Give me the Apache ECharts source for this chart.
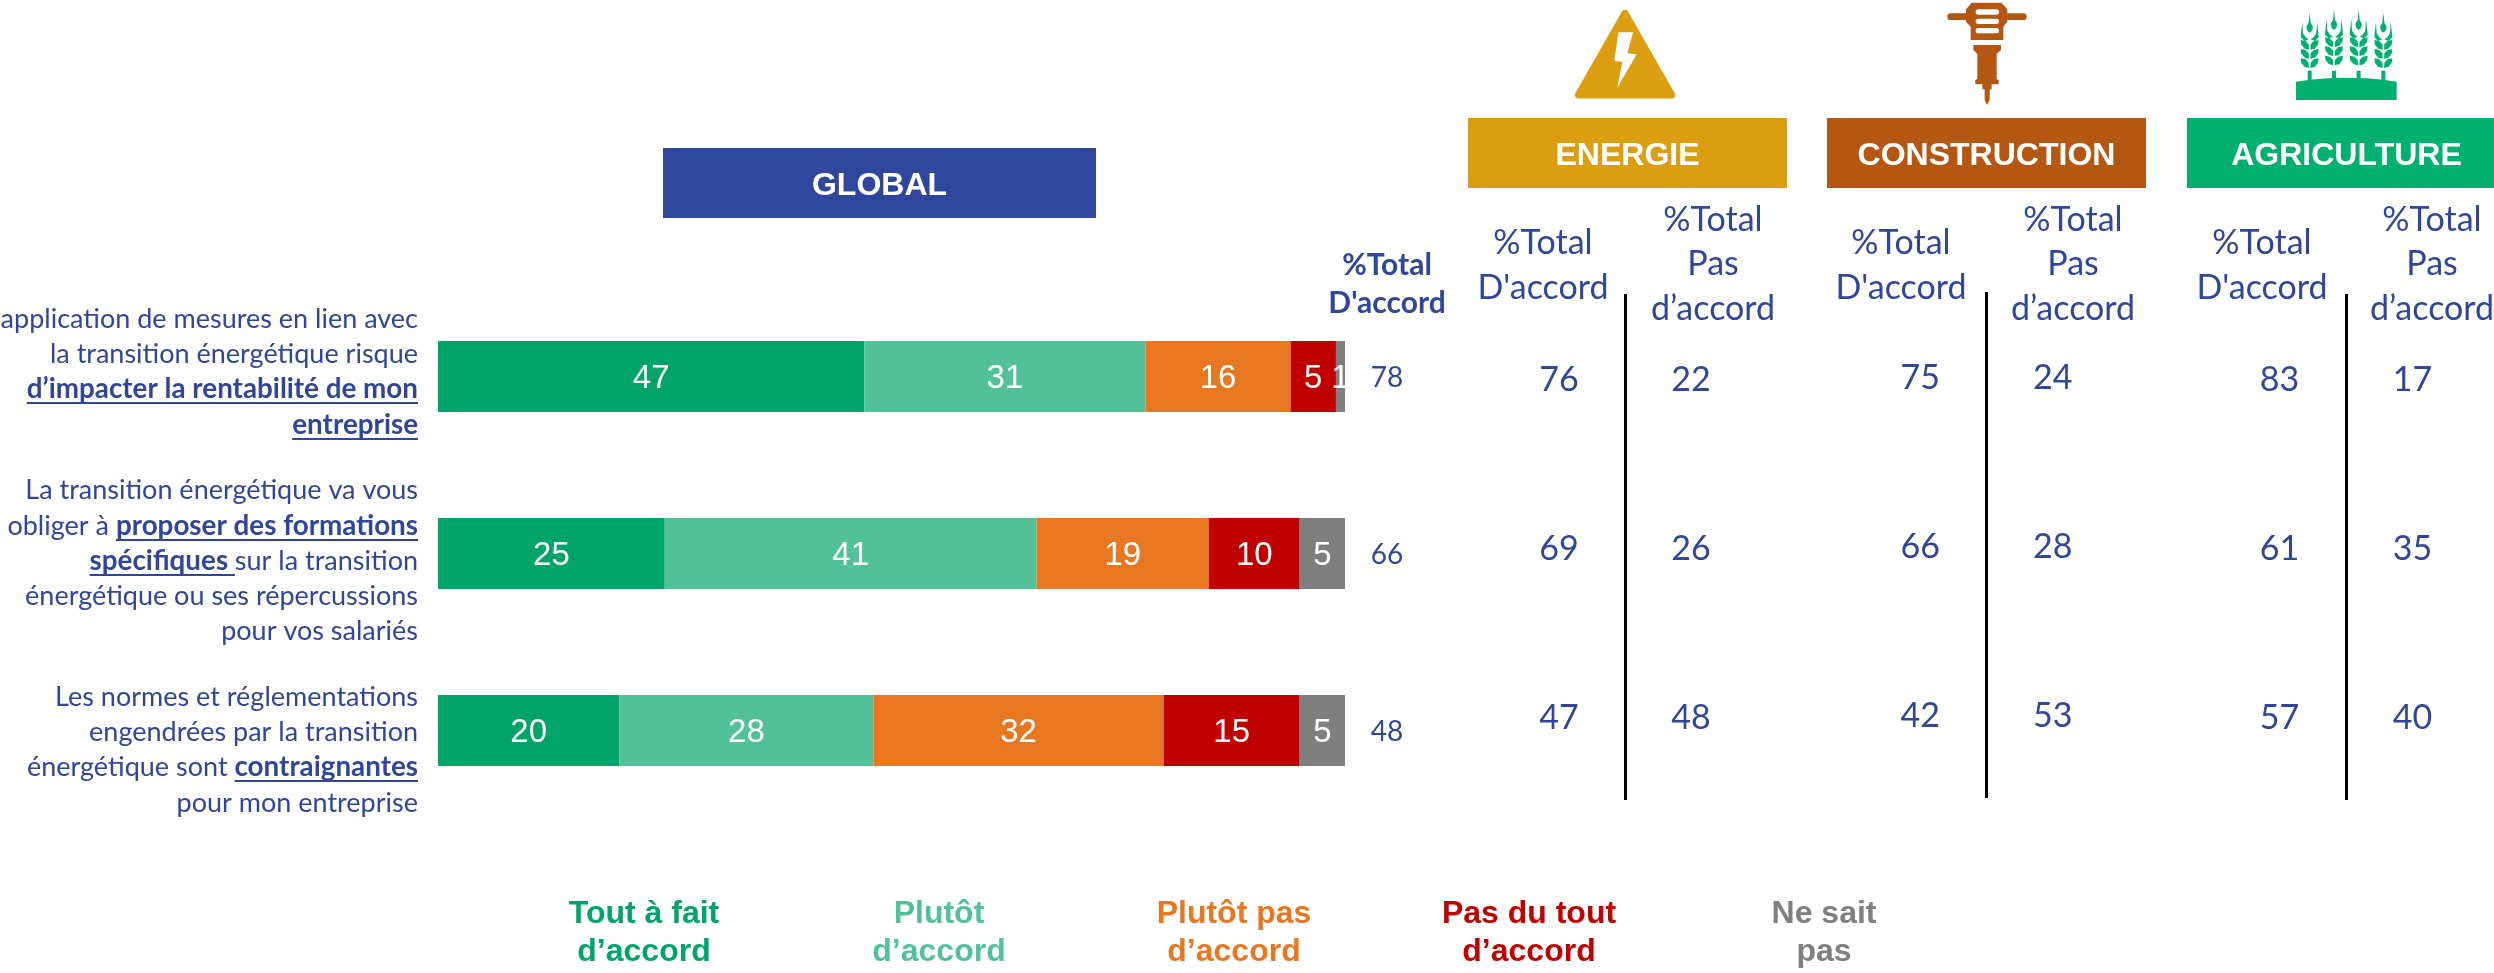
<!DOCTYPE html>
<html><head><meta charset="utf-8">
<style>html,body{margin:0;padding:0;background:#fff;overflow:hidden}#c{width:2494px;height:973px}</style>
<script src="https://cdn.jsdelivr.net/npm/echarts@6/dist/echarts.min.js"></script>
</head><body><div id="c"></div>
<script>
const categories = ["Rentabilité", "Formations", "Normes"];
const toutAFait = [47, 25, 20];
const plutot = [31, 41, 28];
const plutotPas = [16, 19, 32];
const pasDuTout = [5, 10, 15];
const neSaitPas = [1, 5, 5];
const totalAccord = [78, 66, 48];
const energieAccord = [76, 69, 47];
const energiePas = [22, 26, 48];
const constructionAccord = [75, 66, 42];
const constructionPas = [24, 28, 53];
const agricultureAccord = [83, 61, 57];
const agriculturePas = [17, 35, 40];
const legendNames = ["Tout à fait\nd’accord", "Plutôt\nd’accord", "Plutôt pas\nd’accord", "Pas du tout\nd’accord", "Ne sait\npas"];
const colors = ["#00A468", "#52C197", "#E87722", "#C00000", "#7F7F7F"];
const questionLines = [
  [[["L’application de mesures en lien avec", 0]], [["la transition énergétique risque", 0]], [["d’impacter la rentabilité de mon", 1]], [["entreprise", 1]]],
  [[["La transition énergétique va vous", 0]], [["obliger à ", 0], ["proposer des formations", 1]], [["spécifiques ", 1], ["sur la transition", 0]], [["énergétique ou ses répercussions", 0]], [["pour vos salariés", 0]]],
  [[["Les normes et réglementations", 0]], [["engendrées par la transition", 0]], [["énergétique sont ", 0], ["contraignantes", 1]], [["pour mon entreprise", 0]]]
];
const questionY = [[319, 354, 389, 425], [490, 526, 561, 596, 631], [697, 732, 767, 803]];
const headers = [["GLOBAL", 663, 433, "#2E469C"], ["ENERGIE", 1468, 319, "#DA9E10"], ["CONSTRUCTION", 1827, 319, "#B45712"], ["AGRICULTURE", 2187, 319, "#00B06F"]];

const BLUE = "#2F4699", LATO = "Lato";
const graphic = [];
const ctx = document.createElement("canvas").getContext("2d");
function font(b) { return (b ? "bold 27.8px " : "27px ") + LATO; }
questionLines.forEach((q, i) => q.forEach((line, j) => {
  let x = 418, y = questionY[i][j];
  [...line].reverse().forEach(([t, b]) => {
    ctx.font = font(b);
    const w = ctx.measureText(t).width;
    graphic.push({ type: "text", x: x - w, y, silent: true, style: { text: t, font: font(b), fill: BLUE, align: "left", verticalAlign: "middle" } });
    if (b) graphic.push({ type: "line", silent: true, shape: { x1: x - w, y1: y + 14, x2: x, y2: y + 14 }, style: { stroke: BLUE, lineWidth: 2 } });
    x -= w;
  });
}));
headers.forEach(([t, x, w, c], i) => {
  const y = i ? 118 : 148, h = 70;
  graphic.push({ type: "rect", silent: true, shape: { x, y, width: w, height: h }, style: { fill: c } });
  graphic.push({ type: "text", silent: true, x: x + w / 2, y: y + h / 2 + 3, style: { text: t, font: "bold 32px 'Liberation Sans'", fill: "#fff", align: "center", verticalAlign: "middle" } });
});
function hdr(x, y, t, f) { graphic.push({ type: "text", silent: true, x, y, style: { text: t, font: f, fill: BLUE, align: "center", verticalAlign: "middle" } }); }
hdr(1387, 265, "%Total", "bold 30px Lato"); hdr(1387, 303, "D'accord", "bold 30px Lato");
[[0, 0], [358, 360], [719, 719]].forEach(([da, dp]) => {
  const f = "34px Lato";
  hdr(1543 + da, 243, "%Total", f); hdr(1543 + da, 288, "D'accord", f);
  hdr(1713 + dp, 220, "%Total", f); hdr(1713 + dp, 264, "Pas", f); hdr(1713 + dp, 309, "d’accord", f);
});
// icons (points read in 3x crop coordinates)
function poly(ox, pts, fill, extra) {
  graphic.push({ type: "polygon", silent: true, shape: { points: pts.map(p => [ox + p[0] / 3, p[1] / 3]) }, style: Object.assign({ fill }, extra || {}) });
}
function rrect(ox, x, y, w, h, r, fill) {
  graphic.push({ type: "rect", silent: true, shape: { x: ox + x / 3, y: y / 3, width: w / 3, height: h / 3, r: r / 3 }, style: { fill } });
}
poly(1540, [[255, 40], [115, 285], [395, 285]], "#DA9E10", { stroke: "#DA9E10", lineWidth: 7, lineJoin: "round" });
poly(1540, [[235, 97], [279, 97], [262, 160], [290, 163], [232, 263], [247, 185], [223, 183]], "#fff");
const BR = "#B45712";
rrect(1920, 82, 40, 238, 20, 10, BR);
poly(1920, [[155, 8], [245, 8], [262, 28], [262, 65], [250, 80], [250, 120], [152, 120], [152, 80], [138, 65], [138, 28]], BR);
[28, 56, 84].forEach(y => rrect(1920, 167, y, 70, 16, 8, "#fff"));
poly(1920, [[160, 135], [243, 135], [243, 150], [230, 162], [230, 237], [236, 240], [236, 253], [215, 253], [215, 268], [209, 268], [209, 300], [201, 315], [194, 300], [194, 268], [187, 268], [187, 253], [166, 253], [166, 240], [172, 237], [172, 162], [160, 150]], BR);
const GR = "#00B06F";
poly(2260, [[108, 245], [150, 239], [200, 235], [260, 233], [320, 235], [370, 239], [410, 245], [410, 300], [108, 300]], GR);
[[149, 0], [222, -8], [296, -8], [370, 0]].forEach(([cx, d]) => {
  rrect(2260, cx - 6, 212, 12, 30, 0, GR);
  [120, 147, 175].forEach(y0 => [-1, 1].forEach(s => {
    const y = y0 + d;
    poly(2260, [[cx + s * 2, y + 29], [cx + s * 15, y + 26], [cx + s * 25, y + 14], [cx + s * 27, y], [cx + s * 12, y + 3], [cx + s * 3, y + 13]], GR);
  }));
  [-1, 1].forEach(s => poly(2260, [[cx + s * 3, 118 + d], [cx + s * 12, 112 + d], [cx + s * 20, 100 + d], [cx + s * 22, 65 + d], [cx + s * 26, 100 + d], [cx + s * 27, 112 + d], [cx + s * 16, 123 + d]], GR));
  poly(2260, [[cx, 38 + d], [cx + 3, 68 + d], [cx + 10, 80 + d], [cx + 7, 92 + d], [cx, 98 + d], [cx - 7, 92 + d], [cx - 10, 80 + d], [cx - 3, 68 + d]], GR);
});

const barArrays = [toutAFait, plutot, plutotPas, pasDuTout, neSaitPas];
const series = barArrays.map((d, i) => ({
  type: "bar", name: legendNames[i], stack: "g", data: d, barWidth: 71, xAxisIndex: 0, yAxisIndex: 0,
  itemStyle: { color: colors[i] }, silent: true,
  label: { show: true, position: "inside", offset: [0, 2], color: "#fff", fontFamily: "Liberation Sans", fontSize: 33 }
}));
const grids = [{ left: 438, width: 907, top: 288, height: 531 }];
const xAxes = [{ type: "value", min: 0, max: 100, show: false, gridIndex: 0 }];
const yAxes = [{ type: "category", data: categories, inverse: true, show: false, gridIndex: 0 }];
function addColumns(left, width, top, height, colNames, cols, fs, sep, off) {
  const g = grids.length;
  grids.push({ left, width, top, height });
  xAxes.push({ type: "category", data: colNames, gridIndex: g, axisLine: { show: false }, axisTick: { show: false }, axisLabel: { show: false },
    splitLine: sep ? { show: true, showMinLine: false, showMaxLine: false, lineStyle: { color: "#000", width: 3 } } : { show: false } });
  yAxes.push({ type: "category", data: categories, inverse: true, show: false, gridIndex: g });
  cols.forEach((vals, c) => series.push({
    type: "scatter", name: colNames[c] + g, xAxisIndex: g, yAxisIndex: g, symbolSize: 0, silent: true, itemStyle: { opacity: 1 },
    data: vals.map((v, r) => [c, r, v]),
    label: { show: true, position: "inside", offset: [0, off], opacity: 1, formatter: p => String(p.value[2]), color: BLUE, fontFamily: LATO, fontSize: fs }
  }));
}
addColumns(1347, 80, 288, 531, ["Total"], [totalAccord], 28, false, 1);
addColumns(1493, 264, 294, 506, ["D'accord", "Pas d'accord"], [energieAccord, energiePas], 34, true, 2);
addColumns(1854, 265, 292, 506, ["D'accord", "Pas d'accord"], [constructionAccord, constructionPas], 34, true, 2);
addColumns(2213, 266, 294, 506, ["D'accord", "Pas d'accord"], [agricultureAccord, agriculturePas], 34, true, 2);

const rich = {};
colors.forEach((c, i) => { rich["c" + i] = { color: c, fontFamily: "Liberation Sans", fontWeight: "bold", fontSize: 32, lineHeight: 38, width: 200, align: "center" }; });
const chart = echarts.init(document.getElementById("c"), null, { renderer: "canvas" });
chart.setOption({
  animation: false, backgroundColor: "#fff",
  grid: grids, xAxis: xAxes, yAxis: yAxes, series, graphic,
  legend: {
    data: legendNames, left: 539, top: 898, orient: "horizontal", padding: 0, itemWidth: 0, itemHeight: 0, itemGap: 90, selectedMode: false,
    formatter: name => { const i = legendNames.indexOf(name); return name.split("\n").map(l => "{c" + i + "|" + l + "}").join("\n"); },
    textStyle: { rich }
  }
});
</script></body></html>
